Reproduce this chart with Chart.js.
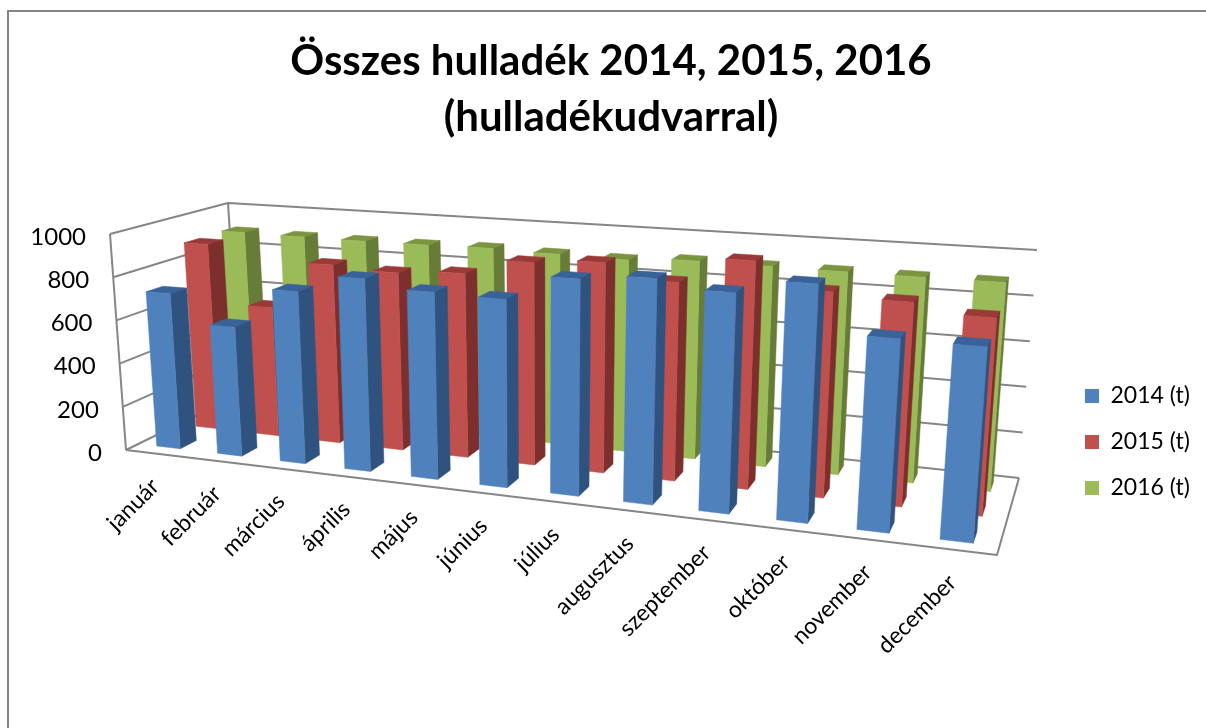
<!DOCTYPE html>
<html>
<head>
<meta charset="utf-8">
<style>
  html, body { margin: 0; padding: 0; background: #fff; overflow: hidden; }
  canvas { display: block; }
</style>
<script src="https://cdn.jsdelivr.net/npm/chart.js@4/dist/chart.umd.min.js"></script>
</head>
<body>
<canvas id="chart" width="1206" height="728"></canvas>
<script>
const titleLines = ['Összes hulladék 2014, 2015, 2016', '(hulladékudvarral)'];
const months = ['január', 'február', 'március', 'április', 'május', 'június', 'július', 'augusztus', 'szeptember', 'október', 'november', 'december'];
const values2014 = [720, 590, 775, 855, 818, 810, 920, 943, 907, 965, 770, 765];
const values2015 = [893, 610, 835, 820, 838, 910, 930, 865, 980, 870, 850, 810];
const values2016 = [897, 893, 892, 893, 897, 890, 885, 900, 897, 895, 893, 893];
const seriesNames = ['2014 (t)', '2015 (t)', '2016 (t)'];

// front, side, top shade per series
const frontColors = ['#4f81bd', '#c0504d', '#9bbb59'];
const sideColors = ['#30527e', '#7d2f2d', '#667c37'];
const topColors = ['#386298', '#9a3a38', '#7b9440'];

const FONT = 'Lato, "Open Sans", sans-serif';
const LINE = '#868686';

// Camera: where the floor and the top of the plot box land on the page.
// Order: front-left, front-right, back-right, back-left
const floorQuad = [[126, 450], [997, 555], [1019, 478], [240, 394]];
const topQuad = [[110, 234], [1017, 293], [1037, 250], [228, 203]];
const U_WARP = 1.04; // a little more foreshortening along the month axis

function homography(q) {
  const [[x0, y0], [x1, y1], [x2, y2], [x3, y3]] = q;
  const dx1 = x1 - x2, dx2 = x3 - x2, sx = x0 - x1 + x2 - x3;
  const dy1 = y1 - y2, dy2 = y3 - y2, sy = y0 - y1 + y2 - y3;
  const det = dx1 * dy2 - dx2 * dy1;
  const g = (sx * dy2 - dx2 * sy) / det;
  const h = (dx1 * sy - sx * dy1) / det;
  const a = x1 - x0 + g * x1, b = x3 - x0 + h * x3;
  const d = y1 - y0 + g * y1, e = y3 - y0 + h * y3;
  return (u, v) => {
    const k = g * u + h * v + 1;
    return [(a * u + b * v + x0) / k, (d * u + e * v + y0) / k];
  };
}
const floorMap = homography(floorQuad);
const topMap = homography(topQuad);

function project(u, v, w) {
  const uu = u / (U_WARP - (U_WARP - 1) * u);
  const f = floorMap(uu, v), t = topMap(uu, v);
  return [f[0] + (t[0] - f[0]) * w, f[1] + (t[1] - f[1]) * w];
}

function poly(ctx, pts, fill) {
  ctx.beginPath();
  pts.forEach((p, i) => i ? ctx.lineTo(p[0], p[1]) : ctx.moveTo(p[0], p[1]));
  ctx.closePath();
  ctx.fillStyle = fill;
  ctx.fill();
  ctx.strokeStyle = fill;
  ctx.lineWidth = 0.5;
  ctx.stroke();
}

function line(ctx, pts) {
  ctx.beginPath();
  pts.forEach((p, i) => i ? ctx.lineTo(p[0], p[1]) : ctx.moveTo(p[0], p[1]));
  ctx.stroke();
}

const ROW_DEPTH = 0.135; // depth of a bar, one row is 1/3

const box3d = {
  id: 'box3d',
  afterLayout(chart) {
    // legend sits where the original has it
    const lg = chart.legend;
    const w = lg.right - lg.left;
    lg.left = 1062;
    lg.right = lg.left + w;
    lg.top = 342;
    lg.bottom = 542;
  },
  beforeDraw(chart) {
    const ctx = chart.ctx;
    ctx.save();
    ctx.strokeStyle = LINE;
    ctx.lineWidth = 2;
    line(ctx, [[8, 728], [8, 11], [1206, 11]]);
    ctx.restore();
  },
  // replaces the flat bars, geometry still comes from the bar elements
  beforeDatasetsDraw(chart) {
    const ctx = chart.ctx;
    const xs = chart.scales.x, ys = chart.scales.y;
    const toU = px => (px - xs.left) / xs.width;
    const toW = px => (ys.bottom - px) / ys.height;

    ctx.save();
    ctx.strokeStyle = LINE;
    ctx.lineWidth = 2;
    ctx.lineJoin = 'round';

    // walls and gridlines
    ys.ticks.forEach(t => {
      const w = toW(ys.getPixelForValue(t.value));
      line(ctx, [project(0, 0, w), project(0, 1, w), project(1, 1, w)]);
    });
    line(ctx, [project(0, 0, 0), project(0, 0, 1)]);
    line(ctx, [project(0, 1, 0), project(0, 1, 1)]);
    line(ctx, [project(0, 0, 0), project(1, 0, 0), project(1, 1, 0)]);

    // back row first, left to right inside a row
    for (let ds = chart.data.datasets.length - 1; ds >= 0; ds--) {
      const meta = chart.getDatasetMeta(ds);
      const vMid = (ds + 0.5) / 3;
      const v0 = vMid - ROW_DEPTH / 2, v1 = vMid + ROW_DEPTH / 2;
      meta.data.forEach(el => {
        const u0 = toU(el.x - el.width / 2), u1 = toU(el.x + el.width / 2);
        const w = toW(el.y);
        poly(ctx, [project(u0, v0, w), project(u1, v0, w), project(u1, v1, w), project(u0, v1, w)], topColors[ds]);
        poly(ctx, [project(u1, v0, 0), project(u1, v1, 0), project(u1, v1, w), project(u1, v0, w)], sideColors[ds]);
        poly(ctx, [project(u0, v0, 0), project(u1, v0, 0), project(u1, v0, w), project(u0, v0, w)], frontColors[ds]);
      });
    }

    // value labels along the front-left edge
    ctx.fillStyle = '#000';
    ctx.font = '24px ' + FONT;
    ctx.textAlign = 'right';
    ctx.textBaseline = 'middle';
    ys.ticks.forEach(t => {
      const p = project(0, 0, toW(ys.getPixelForValue(t.value)));
      ctx.fillText(String(t.value), p[0] - 24, p[1] + 3);
    });

    // month labels, rotated, along the front edge
    ctx.font = '23px ' + FONT;
    months.forEach((m, i) => {
      const p = project(toU(xs.getPixelForValue(i)), 0, 0);
      ctx.save();
      ctx.translate(p[0] - 1, p[1] + 29);
      ctx.rotate(-Math.PI / 4);
      ctx.fillText(m, 0, 0);
      ctx.restore();
    });
    ctx.restore();
    return false;
  }
};

new Chart(document.getElementById('chart'), {
  type: 'bar',
  data: {
    labels: months,
    datasets: [
      { label: seriesNames[0], data: values2014, backgroundColor: frontColors[0] },
      { label: seriesNames[1], data: values2015, backgroundColor: frontColors[1] },
      { label: seriesNames[2], data: values2016, backgroundColor: frontColors[2] }
    ]
  },
  options: {
    responsive: false,
    animation: false,
    events: [],
    grouped: false,
    categoryPercentage: 1,
    barPercentage: 0.39,
    layout: { padding: { left: 16 } },
    scales: {
      x: { display: false },
      y: { display: false, min: 0, max: 1000, ticks: { stepSize: 200 } }
    },
    plugins: {
      title: {
        display: true,
        text: titleLines,
        color: '#000',
        font: { family: FONT, size: 42, weight: 'bold', lineHeight: 1.333 },
        padding: { top: 33, bottom: 10 }
      },
      legend: {
        position: 'right',
        labels: {
          color: '#000',
          font: { family: FONT, size: 23 },
          boxWidth: 14,
          boxHeight: 14,
          padding: 23
        }
      },
      tooltip: { enabled: false }
    }
  },
  plugins: [box3d]
});
</script>
</body>
</html>
